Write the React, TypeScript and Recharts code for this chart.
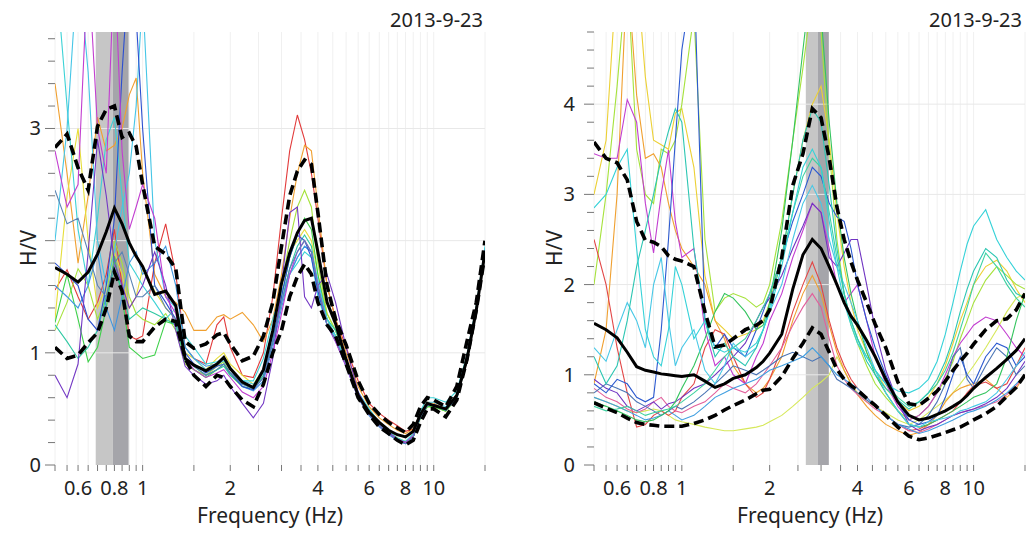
import React from 'react';
import { LineChart, Line, XAxis, YAxis, CartesianGrid, ReferenceArea, ReferenceLine } from 'recharts';

const FONT = '"Noto Sans", "DejaVu Sans", sans-serif';

// Frequency samples (Hz)
const freqs = [0.5,0.55,0.6,0.65,0.7,0.75,0.8,0.85,0.9,0.95, 1,1.1,1.2,1.3,1.4,1.5,1.65,1.8,1.9,2, 2.2,2.4,2.6,2.8,3,3.2,3.4,3.6,3.8,4, 4.3,4.6,5,5.5,6,6.5,7,7.5,8,8.5, 9,9.5,10,11,12,13,14,15];

const xTicks = [0.5,0.55,0.6,0.65,0.7,0.75,0.8,0.85,0.9,0.95,1,1.5,2,2.5,3,3.5,4,4.5,5,5.5,6,6.5,7,7.5,8,8.5,9,9.5,10,15];
const xTickLabels = [0.6,0.8,1,2,4,6,8,10];

const leftYTicks = [0,0.2,0.4,0.6,0.8,1,1.2,1.4,1.6,1.8,2,2.2,2.4,2.6,2.8,3,3.2,3.4,3.6,3.8];
const leftYLabels = [0,1,3];
const leftGridY = [1,2,3];
const rightYTicks = [0,0.2,0.4,0.6,0.8,1,1.2,1.4,1.6,1.8,2,2.2,2.4,2.6,2.8,3,3.2,3.4,3.6,3.8,4,4.2,4.4,4.6,4.8];
const rightYLabels = [0,1,2,3,4];
const rightGridY = [1,2,3,4];

const leftBand = [0.69, 0.79, 0.895];
const rightBand = [2.66, 2.92, 3.19];

const dateLabel = '2013-9-23';

// ---------- Left panel ----------
const leftMean = [1.76,1.70,1.63,1.72,1.88,2.08,2.29,2.15,1.98,1.86, 1.77,1.52,1.55,1.42,0.95,0.89,0.84,0.90,0.96,0.86, 0.74,0.69,0.85,1.20,1.62,1.89,2.07,2.18,2.20,1.90, 1.45,1.26,0.94,0.62,0.47,0.38,0.31,0.27,0.25,0.30, 0.45,0.55,0.53,0.50,0.62,0.94,1.38,1.90];
const leftUpper = [2.83,2.95,2.65,2.45,3.02,3.17,3.20,2.92,2.96,2.84, 2.50,1.95,1.88,1.75,1.10,1.04,1.08,1.16,1.18,1.08, 0.93,0.97,1.15,1.45,1.95,2.40,2.62,2.72,2.68,2.25, 1.60,1.30,1.07,0.75,0.55,0.45,0.38,0.33,0.29,0.36, 0.52,0.60,0.58,0.52,0.70,1.10,1.45,2.00];
const leftLower = [1.05,0.95,0.98,1.09,1.18,1.40,1.72,1.55,1.15,1.10, 1.10,1.23,1.30,1.28,0.95,0.80,0.70,0.80,0.78,0.70, 0.58,0.52,0.72,1.00,1.20,1.50,1.68,1.79,1.70,1.45, 1.25,1.15,0.90,0.60,0.45,0.34,0.28,0.22,0.18,0.22, 0.38,0.50,0.50,0.43,0.58,0.94,1.38,1.88];

const leftRed = [1.56,1.74,1.50,1.30,1.45,1.70,2.10,1.60,1.15,1.12, 1.15,1.80,2.15,1.70,1.05,0.95,0.90,1.25,1.32,1.05, 0.80,0.78,1.00,1.50,2.20,2.80,3.12,2.90,2.60,2.20, 1.60,1.30,1.05,0.75,0.55,0.46,0.40,0.35,0.30,0.32, 0.45,0.55,0.54,0.50,0.60,0.95,1.40,1.92];
const leftOrange = [3.40,2.60,1.80,2.40,3.10,2.80,2.85,3.00,3.30,3.45, 2.60,1.70,1.50,1.45,1.36,1.20,1.20,1.32,1.34,1.30, 1.36,1.25,1.10,1.30,1.70,2.20,2.60,2.85,2.80,2.30, 1.60,1.30,1.00,0.70,0.52,0.42,0.36,0.31,0.28,0.32, 0.46,0.56,0.55,0.50,0.62,0.95,1.40,1.92];
const leftYellow = [1.30,2.40,3.00,2.00,1.40,1.60,1.90,1.70,1.40,1.50, 1.75,1.55,1.40,1.30,1.00,0.95,0.85,0.95,1.00,0.90, 0.80,0.72,0.85,1.20,1.60,1.90,2.00,2.10,2.00,1.70, 1.35,1.20,0.95,0.65,0.48,0.38,0.30,0.24,0.20,0.25, 0.42,0.52,0.52,0.48,0.60,0.93,1.38,1.90];
const leftYellowGreen = [1.20,1.45,1.75,1.60,1.30,1.50,2.00,1.80,1.50,1.35, 1.30,1.25,1.35,1.20,0.90,0.85,0.80,0.88,0.92,0.82, 0.72,0.70,0.85,1.20,1.60,2.00,2.30,2.45,2.30,1.80, 1.35,1.20,0.90,0.60,0.45,0.36,0.29,0.24,0.21,0.26, 0.42,0.52,0.52,0.48,0.60,0.93,1.38,1.90];
const leftGreen = [1.27,1.70,1.30,0.92,1.05,1.40,1.86,1.50,1.05,1.00, 0.95,0.98,1.28,1.25,0.92,0.85,0.78,0.85,0.90,0.80, 0.70,0.68,0.80,1.10,1.50,1.85,2.05,2.20,2.10,1.70, 1.30,1.15,0.90,0.60,0.45,0.35,0.28,0.23,0.20,0.25, 0.42,0.52,0.52,0.48,0.60,0.93,1.38,1.90];
const leftTeal = [1.25,1.10,0.95,1.05,1.20,1.50,1.75,1.55,1.30,1.35, 1.40,1.35,1.30,1.25,0.95,0.88,0.80,0.85,0.88,0.80, 0.72,0.70,0.80,1.10,1.45,1.75,1.95,2.05,1.95,1.60, 1.30,1.20,0.95,0.62,0.46,0.36,0.28,0.22,0.19,0.25, 0.43,0.54,0.54,0.50,0.60,0.94,1.40,1.92];
const leftCyan = [4.50,3.20,2.10,1.60,2.20,2.90,3.10,2.40,1.80,1.70, 1.60,1.45,1.30,1.40,1.15,1.05,0.90,0.92,0.95,0.85, 0.75,0.75,0.95,1.30,1.55,1.70,1.80,1.90,1.85,1.50, 1.25,1.15,0.92,0.65,0.50,0.38,0.30,0.24,0.21,0.28, 0.48,0.60,0.60,0.56,0.66,0.98,1.42,1.95];
const leftCyan2 = [2.00,3.00,4.50,3.50,2.00,1.60,1.90,2.30,2.60,3.20, 4.20,2.00,1.50,1.40,1.05,0.95,0.85,0.90,0.93,0.85, 0.75,0.72,0.82,1.15,1.45,1.70,1.85,1.95,1.90,1.65, 1.30,1.15,0.90,0.62,0.47,0.37,0.29,0.23,0.20,0.26, 0.45,0.56,0.56,0.52,0.62,0.95,1.40,1.93];
const leftLightBlue = [1.60,1.50,1.40,1.60,1.90,1.40,1.20,1.50,1.80,1.90, 1.70,1.80,1.95,1.60,1.05,0.95,0.88,0.90,0.95,0.85, 0.70,0.66,0.75,1.05,1.40,1.70,1.85,1.95,1.90,1.55, 1.25,1.12,0.88,0.60,0.44,0.34,0.27,0.22,0.19,0.25, 0.43,0.53,0.53,0.49,0.60,0.93,1.38,1.90];
const leftBlue = [1.80,1.70,1.60,1.30,1.20,1.60,2.20,3.50,4.50,4.00, 3.00,1.60,1.45,1.30,1.00,0.90,0.82,0.88,0.90,0.82, 0.70,0.67,0.78,1.10,1.50,1.85,2.05,2.00,1.85,1.55, 1.25,1.10,0.88,0.60,0.45,0.35,0.28,0.22,0.19,0.25, 0.43,0.53,0.53,0.49,0.60,0.93,1.38,1.90];
const leftPurple = [0.80,0.60,0.90,1.90,2.90,2.40,1.80,1.60,1.40,1.50, 1.60,1.90,1.60,1.20,0.88,0.80,0.72,0.75,0.80,0.70, 0.55,0.42,0.55,0.95,1.60,2.25,2.30,1.50,1.40,1.60, 1.70,1.45,1.05,0.65,0.47,0.37,0.29,0.23,0.20,0.26, 0.44,0.54,0.54,0.50,0.61,0.94,1.39,1.91];
const leftMagenta = [2.80,2.30,2.50,4.50,3.00,2.60,4.50,2.80,2.10,2.30, 2.50,2.20,1.50,1.35,0.95,0.85,0.78,0.82,0.85,0.78, 0.65,0.60,0.70,1.00,1.35,1.70,1.90,2.00,1.90,1.60, 1.25,1.10,0.88,0.60,0.45,0.35,0.28,0.23,0.20,0.26, 0.44,0.54,0.54,0.50,0.61,0.94,1.39,1.91];
const leftSteel = [2.45,2.15,2.20,1.90,1.60,1.50,1.80,1.90,1.70,1.50, 1.50,1.60,1.40,1.30,0.95,0.88,0.80,0.85,0.90,0.82, 0.72,0.68,0.78,1.10,1.45,1.75,1.90,2.00,1.90,1.60, 1.25,1.12,0.90,0.60,0.45,0.35,0.28,0.22,0.19,0.25, 0.43,0.53,0.53,0.49,0.60,0.93,1.38,1.90];

const leftCurves = [leftRed, leftOrange, leftYellow, leftYellowGreen, leftGreen, leftTeal, leftCyan, leftCyan2, leftLightBlue, leftBlue, leftPurple, leftMagenta, leftSteel];
const leftColors = ['#e23b3b', '#f0a030', '#e6de3a', '#a6e23c', '#3ed04a', '#2ec8a2', '#3cd2d6', '#46c6e6', '#3f96e0', '#2c4fd0', '#7338c4', '#c23ed0', '#5a84b4'];

// ---------- Right panel ----------
const rightMean = [1.57,1.50,1.41,1.25,1.09,1.05,1.03,1.01,1.00,0.99, 0.98,1.00,0.93,0.86,0.90,0.96,1.00,1.08,1.15,1.24, 1.45,1.95,2.33,2.50,2.40,2.20,2.00,1.80,1.65,1.55, 1.38,1.20,0.95,0.70,0.55,0.50,0.52,0.56,0.60,0.65, 0.70,0.77,0.85,0.97,1.07,1.17,1.27,1.40];
const rightUpper = [3.58,3.40,3.35,3.16,2.70,2.49,2.47,2.42,2.32,2.28, 2.26,2.20,1.70,1.31,1.33,1.40,1.50,1.55,1.60,1.72, 2.30,3.10,3.45,3.95,3.85,3.40,2.86,2.50,2.25,2.05, 1.80,1.56,1.30,0.92,0.68,0.66,0.74,0.82,0.93,1.05, 1.15,1.24,1.34,1.50,1.60,1.62,1.72,1.90];
const rightLower = [0.69,0.63,0.58,0.52,0.47,0.45,0.44,0.43,0.43,0.43, 0.43,0.46,0.50,0.55,0.61,0.66,0.72,0.79,0.83,0.84, 0.98,1.18,1.35,1.52,1.45,1.25,1.06,0.95,0.88,0.83, 0.74,0.66,0.55,0.42,0.32,0.28,0.30,0.33,0.36,0.39, 0.42,0.46,0.50,0.57,0.65,0.76,0.86,1.00];

const rightCyanA = [2.85,3.00,3.30,3.50,2.40,1.50,1.20,1.10,1.50,2.20, 2.00,1.40,1.60,1.30,1.25,1.30,1.25,1.35,1.50,1.70, 2.20,2.80,3.30,3.50,3.30,2.70,2.20,1.80,1.55,1.35, 1.20,1.05,0.90,0.82,0.80,0.85,0.95,1.15,1.45,1.80, 2.15,2.45,2.65,2.83,2.50,2.30,2.15,2.05];
const rightTeal = [1.20,0.90,1.10,1.60,2.20,2.60,3.00,3.40,3.70,3.95, 3.80,2.40,1.60,1.20,1.35,1.20,1.10,1.30,1.50,1.75, 2.30,3.00,3.60,3.95,3.80,3.10,2.40,1.90,1.60,1.40, 1.15,1.00,0.85,0.72,0.62,0.70,0.80,0.95,1.15,1.40, 1.70,1.95,2.15,2.40,2.30,2.05,1.90,1.85];
const rightCyanB = [1.30,1.15,1.50,1.80,1.60,1.30,2.00,2.30,1.60,1.10, 1.30,1.50,1.05,0.90,1.10,1.35,1.20,1.30,1.50,1.70, 2.00,2.50,2.90,3.10,2.90,2.50,2.20,2.00,1.80,1.60, 1.30,1.05,0.80,0.60,0.45,0.42,0.48,0.50,0.52,0.55, 0.60,0.62,0.65,0.70,0.80,0.95,1.10,1.25];
const rightYellow = [3.00,3.60,5.50,5.50,5.50,4.30,3.60,3.55,3.50,3.90, 3.95,3.30,2.10,1.60,1.50,1.40,1.45,1.50,1.60,1.80, 2.30,3.00,3.60,4.00,4.20,3.60,2.80,2.20,1.80,1.50, 1.25,1.05,0.85,0.70,0.60,0.65,0.75,0.90,1.10,1.35, 1.60,1.80,2.00,2.20,2.27,2.15,1.95,1.80];
const rightYellowGreen = [2.00,3.00,4.20,5.50,3.50,3.00,2.90,3.50,3.45,3.60, 4.00,5.00,2.50,1.70,1.85,1.90,1.85,1.75,1.80,2.00, 2.70,3.60,4.40,5.20,4.80,3.50,2.50,1.90,1.55,1.35, 1.10,0.90,0.75,0.60,0.50,0.55,0.65,0.80,0.95,1.15, 1.40,1.60,1.80,2.05,2.20,2.10,2.00,1.95];
const rightOrange = [0.90,1.50,3.00,5.50,4.10,3.40,3.45,3.30,2.90,2.60, 2.40,2.20,2.00,1.60,1.40,1.10,0.90,0.80,0.85,0.95, 1.20,1.60,1.90,2.10,1.90,1.55,1.25,1.05,0.90,0.78, 0.65,0.55,0.45,0.38,0.33,0.36,0.45,0.55,0.70,0.80, 0.85,0.88,0.90,0.95,0.85,0.75,0.85,1.00];
const rightRed = [2.50,2.00,1.30,0.80,0.42,0.45,0.55,0.60,0.55,0.60, 0.75,0.90,1.30,1.50,1.45,1.20,0.90,0.75,0.80,0.95, 1.30,1.70,2.00,2.25,2.00,1.60,1.30,1.10,0.95,0.85, 0.75,0.65,0.55,0.45,0.38,0.40,0.45,0.50,0.55,0.60, 0.70,0.80,0.88,0.92,0.85,0.90,1.10,1.30];
const rightMagenta = [3.45,3.40,3.40,4.05,3.80,2.90,2.35,3.00,3.49,2.70, 2.30,2.40,1.50,1.10,1.20,1.00,0.90,1.20,1.35,1.60, 1.90,2.30,2.60,2.90,2.80,2.40,2.00,1.80,1.90,2.00, 1.60,1.20,0.90,0.65,0.50,0.55,0.65,0.80,1.00,1.20, 1.35,1.45,1.55,1.64,1.60,1.45,1.30,1.20];
const rightBlue = [0.90,0.80,0.95,0.90,0.75,0.70,0.75,1.50,2.50,3.60, 4.60,5.50,1.60,1.30,1.45,1.30,1.20,1.50,1.70,1.90, 2.30,2.70,3.00,3.30,3.20,2.90,2.75,2.70,2.40,2.00, 1.60,1.30,1.00,0.70,0.50,0.45,0.48,0.55,0.75,1.00, 1.20,1.00,0.90,1.20,1.35,1.30,1.10,1.20];
const rightPurple = [0.95,0.85,0.80,0.65,0.60,0.65,0.70,0.62,0.68,0.70, 0.75,0.85,0.90,1.00,1.10,1.20,1.35,1.60,1.75,1.85, 2.10,2.40,2.65,2.90,2.80,2.30,2.20,2.35,2.50,2.50, 2.00,1.50,1.05,0.70,0.45,0.38,0.42,0.45,0.50,0.55, 0.58,0.60,0.62,0.68,0.75,0.85,1.00,1.15];
const rightPink = [0.85,0.75,0.70,0.62,0.58,0.62,0.70,0.75,0.65,0.60, 0.58,0.65,0.70,0.80,0.90,0.85,0.80,0.90,1.00,1.10, 1.30,1.55,1.75,1.90,1.75,1.40,1.10,0.95,0.85,0.78, 0.70,0.62,0.55,0.45,0.38,0.36,0.40,0.45,0.50,0.55, 0.58,0.60,0.62,0.66,0.70,0.78,0.88,1.00];
const rightLightBlue = [0.75,0.70,0.65,0.60,0.55,0.50,0.52,0.55,0.60,0.55, 0.50,0.55,0.65,0.75,0.80,0.85,0.90,0.95,1.00,1.05, 1.10,1.15,1.20,1.30,1.20,1.10,1.00,0.95,0.90,0.85, 0.75,0.65,0.55,0.45,0.40,0.35,0.38,0.42,0.46,0.50, 0.54,0.58,0.60,0.65,0.72,0.80,0.90,1.00];
const rightGreen = [0.70,0.65,0.60,0.55,0.50,0.48,0.50,0.55,0.60,0.70, 0.85,1.10,1.40,1.70,1.90,1.85,1.70,1.50,1.55,1.80, 2.60,3.60,4.60,5.50,5.00,3.80,2.90,2.30,1.90,1.60, 1.25,1.00,0.80,0.60,0.45,0.42,0.45,0.50,0.55,0.60, 0.65,0.70,0.75,0.80,0.90,1.20,1.60,1.90];
const rightLightYellow = [0.75,0.70,0.65,0.60,0.58,0.60,0.62,0.60,0.55,0.50, 0.48,0.45,0.42,0.40,0.38,0.38,0.40,0.42,0.44,0.48, 0.55,0.65,0.75,0.85,0.92,1.00,1.20,1.05,0.90,0.80, 0.70,0.65,0.58,0.50,0.45,0.50,0.58,0.65,0.72,0.80, 0.90,1.00,1.10,1.30,1.50,1.70,1.85,1.90];
const rightSteel = [0.80,0.90,0.85,0.80,0.70,0.65,0.60,0.55,0.60,0.65, 0.62,0.70,0.80,0.90,1.00,1.10,1.05,1.00,1.05,1.10, 1.20,1.25,1.20,1.15,1.20,1.10,0.95,0.90,0.85,0.80, 0.72,0.65,0.55,0.45,0.42,0.45,0.55,0.70,0.90,1.20, 1.30,0.95,0.85,1.10,1.30,1.20,1.00,1.10];
const rightTealGreen = [0.65,0.60,0.62,0.65,0.60,0.55,0.58,0.60,0.62,0.65, 0.70,0.80,0.90,1.05,1.20,1.30,1.40,1.60,1.75,1.90, 2.30,2.80,3.20,3.40,3.30,2.80,2.30,1.90,1.60,1.40, 1.20,1.05,0.90,0.75,0.65,0.70,0.80,0.90,1.05,1.25, 1.50,1.75,2.00,2.35,2.20,2.00,1.85,1.75];

const rightCurves = [rightLightYellow, rightYellow, rightYellowGreen, rightOrange, rightRed, rightPink, rightMagenta, rightPurple, rightSteel, rightLightBlue, rightBlue, rightGreen, rightTealGreen, rightCyanB, rightTeal, rightCyanA];
const rightColors = ['#d6e85a', '#ecd034', '#a6e23c', '#f0a030', '#e24646', '#e2609c', '#c23ed0', '#7034c2', '#4a74b4', '#3f9ee0', '#2c5ad0', '#34c45e', '#3ed2a0', '#48c8e6', '#2cc6b2', '#36d2d8'];

function buildRows(curves: number[][], mean: number[], upper: number[], lower: number[]) {
  return freqs.map((f, i) => {
    const row: Record<string, number> = { f, mean: mean[i], upper: upper[i], lower: lower[i] };
    curves.forEach((c, j) => {
      row['c' + j] = c[i];
    });
    return row;
  });
}

const leftRows = buildRows(leftCurves, leftMean, leftUpper, leftLower);
const rightRows = buildRows(rightCurves, rightMean, rightUpper, rightLower);

const XTick = (props: any) => {
  const { x, y, payload } = props;
  const v = payload.value;
  const show = xTickLabels.some((l) => Math.abs(l - v) < 1e-9);
  return (
    <g>
      <line x1={x} x2={x} y1={y} y2={y + 6} stroke="#777" strokeWidth={1} />
      {show && (
        <text x={x} y={y + 30} textAnchor="middle" fontSize={20} fontFamily={FONT} fill="#222">
          {String(v)}
        </text>
      )}
    </g>
  );
};

const makeYTick = (labels: number[], gap: number) => (props: any) => {
  const { x, y, payload } = props;
  const v = payload.value;
  const major = Math.abs(v - Math.round(v)) < 1e-6;
  const len = major ? 10 : 7;
  const show = major && labels.includes(Math.round(v));
  return (
    <g>
      <line x1={x - len} x2={x} y1={y} y2={y} stroke="#777" strokeWidth={1} />
      {show && (
        <text x={x - gap} y={y + 7} textAnchor="end" fontSize={20} fontFamily={FONT} fill="#222">
          {String(Math.round(v))}
        </text>
      )}
    </g>
  );
};

interface PanelProps {
  rows: Record<string, number>[];
  colors: string[];
  yMax: number;
  yTicks: number[];
  yLabels: number[];
  gridY: number[];
  band: number[];
  width: number;
  yAxisWidth: number;
  marginRight: number;
  gap: number;
}

function Panel(p: PanelProps) {
  return (
    <LineChart width={p.width} height={533} data={p.rows} margin={{ top: 32, right: p.marginRight, bottom: 0, left: 0 }}>
      <CartesianGrid horizontal={false} stroke="#f0f0f0" />
      <XAxis
        dataKey="f"
        type="number"
        scale="log"
        domain={[0.5, 15]}
        allowDataOverflow
        ticks={xTicks}
        interval={0}
        tick={XTick}
        tickLine={false}
        axisLine={false}
        tickSize={0}
        tickMargin={0}
        height={68}
      />
      <YAxis
        type="number"
        domain={[0, p.yMax]}
        allowDataOverflow
        ticks={p.yTicks}
        interval={0}
        tick={makeYTick(p.yLabels, p.gap)}
        tickLine={false}
        axisLine={false}
        tickSize={0}
        tickMargin={0}
        width={p.yAxisWidth}
      />
      {p.gridY.map((v) => (
        <ReferenceLine key={'g' + v} y={v} stroke="#e8e8e8" strokeWidth={1} />
      ))}
      <ReferenceArea x1={p.band[0]} x2={p.band[1]} fill="#c6c6c6" fillOpacity={1} stroke="none" />
      <ReferenceArea x1={p.band[1]} x2={p.band[2]} fill="#a5a5aa" fillOpacity={1} stroke="none" />
      {p.colors.map((c, j) => (
        <Line
          key={'c' + j}
          type="linear"
          dataKey={'c' + j}
          stroke={c}
          strokeWidth={1.1}
          dot={false}
          activeDot={false}
          isAnimationActive={false}
        />
      ))}
      <Line type="linear" dataKey="upper" stroke="#000" strokeWidth={3.6} strokeDasharray="10 5" dot={false} activeDot={false} isAnimationActive={false} />
      <Line type="linear" dataKey="lower" stroke="#000" strokeWidth={3.6} strokeDasharray="10 5" dot={false} activeDot={false} isAnimationActive={false} />
      <Line type="linear" dataKey="mean" stroke="#000" strokeWidth={3} dot={false} activeDot={false} isAnimationActive={false} />
    </LineChart>
  );
}

export default function App() {
  return (
    <div style={{ position: 'absolute', left: 0, top: 0, width: 1028, height: 533, background: '#fff', overflow: 'hidden' }}>
      <div style={{ position: 'absolute', left: 0, top: 0 }}>
        <Panel
          rows={leftRows}
          colors={leftColors}
          yMax={3.86}
          yTicks={leftYTicks}
          yLabels={leftYLabels}
          gridY={leftGridY}
          band={leftBand}
          width={500}
          yAxisWidth={55}
          marginRight={15}
          gap={14}
        />
      </div>
      <div style={{ position: 'absolute', left: 520, top: 0 }}>
        <Panel
          rows={rightRows}
          colors={rightColors}
          yMax={4.8}
          yTicks={rightYTicks}
          yLabels={rightYLabels}
          gridY={rightGridY}
          band={rightBand}
          width={508}
          yAxisWidth={74}
          marginRight={3}
          gap={19}
        />
      </div>
      <svg width={1028} height={533} style={{ position: 'absolute', left: 0, top: 0, pointerEvents: 'none' }}>
        <g fontFamily={FONT} fill="#222">
          <text x={483} y={27} textAnchor="end" fontSize={20}>{dateLabel}</text>
          <text x={1022} y={27} textAnchor="end" fontSize={20}>{dateLabel}</text>
          <text x={270} y={523} textAnchor="middle" fontSize={21}>Frequency (Hz)</text>
          <text x={810} y={523} textAnchor="middle" fontSize={21}>Frequency (Hz)</text>
          <text transform="translate(36,248) rotate(-90)" textAnchor="middle" fontSize={21}>H/V</text>
          <text transform="translate(562,248) rotate(-90)" textAnchor="middle" fontSize={21}>H/V</text>
        </g>
      </svg>
    </div>
  );
}
